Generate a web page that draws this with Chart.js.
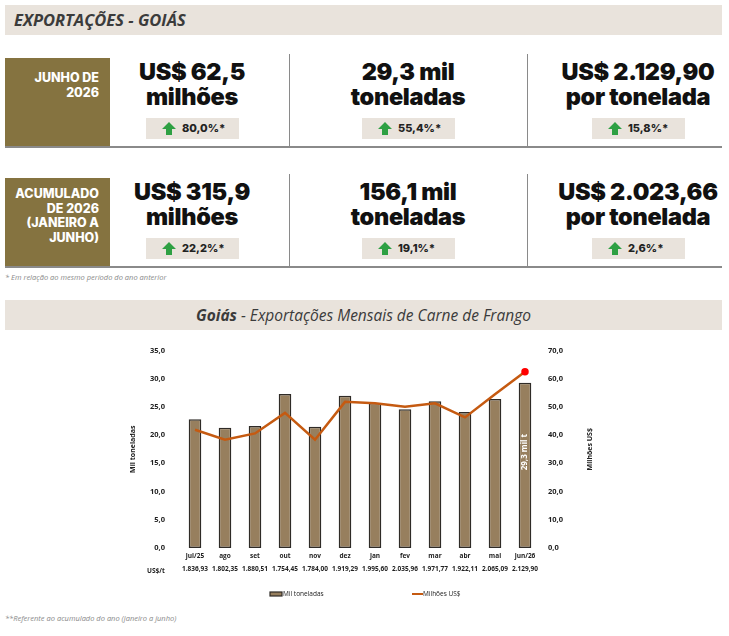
<!DOCTYPE html>
<html>
<head>
<meta charset="utf-8">
<script src="https://cdn.jsdelivr.net/npm/chart.js@4.4.1/dist/chart.umd.min.js"></script>
<style>
  body { margin: 0; background: #fff; width: 729px; height: 636px; position: relative; overflow: hidden; font-family: "Open Sans", sans-serif; }
  .bar-head { position: absolute; left: 5px; width: 717px; height: 30px; background: #e9e3dc; }
  #head1 { top: 5px; }
  #head1 span { position: absolute; left: 9px; top: 3px; font: italic 700 16.5px "Open Sans"; color: #3b3b3b; }
  #head2 { top: 300px; text-align: center; }
  #head2 span { display: inline-block; margin-top: 4px; font: italic 400 15.5px "Open Sans"; color: #3b3b3b; }
  #head2 b { font-weight: 700; }
  .kpi-label { position: absolute; left: 5px; width: 105px; height: 88px; background: #857340; }
  .kpi-label div { position: absolute; right: 11px; font: 800 12.5px Inter; color: #fff; text-align: right; line-height: 14.5px; }
  .divider { position: absolute; width: 1px; background: #8a8a8a; }
  .hline { position: absolute; left: 5px; width: 717px; height: 1.5px; background: #8a8a8a; }
  .kpi-val { position: absolute; width: 240px; text-align: center; font: 900 23.5px Inter; color: #111; line-height: 25px; letter-spacing: -0.3px; }
  .badge { position: absolute; width: 93px; height: 21px; background: #e9e3dc; font: 800 11px Inter; color: #222; }
  .badge svg { position: absolute; left: 16px; top: 4px; }
  .badge span { position: absolute; left: 36px; top: 3px; }
  .note { position: absolute; left: 5px; font: italic 400 7.5px "Open Sans"; color: #8a8a8a; }
  #chart-wrap { position: absolute; left: 100px; top: 331px; width: 520px; height: 274px; }
</style>
</head>
<body>
<div class="bar-head" id="head1"><span>EXPORTAÇÕES - GOIÁS</span></div>
<div id="kpis"></div>
<div class="note" style="top:272px">* Em relação ao mesmo período do ano anterior</div>
<div class="bar-head" id="head2"><span><b>Goiás</b> - Exportações Mensais de Carne de Frango</span></div>
<div id="chart-wrap"><canvas id="chart-exports"></canvas></div>
<div class="note" style="top:613px">**Referente ao acumulado do ano (janeiro a junho)</div>

<script>
// monthly data
const months = ['jul/25', 'ago', 'set', 'out', 'nov', 'dez', 'jan', 'fev', 'mar', 'abr', 'mai', 'jun/26'];
const tons = [22.8, 21.3, 21.6, 27.3, 21.5, 27.0, 25.7, 24.6, 26.0, 24.1, 26.4, 29.3];
const usdMillions = [41.9, 38.4, 40.6, 47.9, 38.4, 51.8, 51.3, 50.1, 51.3, 46.3, 54.5, 62.5];
const pricePerTon = ['1.836,93', '1.802,35', '1.880,51', '1.754,45', '1.784,00', '1.919,29', '1.995,60', '2.035,96', '1.971,77', '1.922,11', '2.065,09', '2.129,90'];

// KPI blocks
const kpiLabels = [['JUNHO DE', '2026'], ['ACUMULADO', 'DE 2026', '(JANEIRO A', 'JUNHO)']];
const kpiValues = [
  [['US$ 62,5', 'milhões'], ['29,3 mil', 'toneladas'], ['US$ 2.129,90', 'por tonelada']],
  [['US$ 315,9', 'milhões'], ['156,1 mil', 'toneladas'], ['US$ 2.023,66', 'por tonelada']]
];
const kpiChanges = [['80,0%*', '55,4%*', '15,8%*'], ['22,2%*', '19,1%*', '2,6%*']];

const blockTops = [58, 178];
const colCenters = [192, 408, 638];
const arrow = '<svg width="14" height="13" viewBox="0 0 14 13"><path d="M7 0 L14 7 L10 7 L10 13 L4 13 L4 7 L0 7 Z" fill="#2ea043"/></svg>';

let html = '';
blockTops.forEach((top, b) => {
  const labelTop = b === 0 ? 13 : 9;
  html += `<div class="kpi-label" style="top:${top}px"><div style="top:${labelTop}px">${kpiLabels[b].join('<br>')}</div></div>`;
  html += `<div class="divider" style="left:289px;top:${top - 4}px;height:92px"></div>`;
  html += `<div class="divider" style="left:527px;top:${top - 4}px;height:92px"></div>`;
  html += `<div class="hline" style="top:${top + 88}px"></div>`;
  kpiValues[b].forEach((v, i) => {
    html += `<div class="kpi-val" style="left:${colCenters[i] - 120}px;top:${top + 1}px">${v[0]}<br>${v[1]}</div>`;
    html += `<div class="badge" style="left:${colCenters[i] - 46}px;top:${top + 60}px">${arrow}<span>${kpiChanges[b][i]}</span></div>`;
  });
});
document.getElementById('kpis').innerHTML = html;

const fmt = v => v.toFixed(1).replace('.', ',');

// extra text: US$/t row caption, right axis title, legend and label inside the last bar
const extraText = {
  id: 'extraText',
  afterDraw(chart) {
    const ctx = chart.ctx;
    const x = chart.scales.x;
    const area = chart.chartArea;
    const barSet = chart.data.datasets[0];
    const lineSet = chart.data.datasets[1];
    ctx.save();
    ctx.font = '700 6.5px "Open Sans"';
    ctx.fillStyle = '#222';
    ctx.textAlign = 'left';
    ctx.textBaseline = 'middle';
    ctx.fillText('US$/t', 47, x.bottom - 6.5);

    // right axis title, reads bottom to top
    ctx.save();
    ctx.translate(area.right + 50, (area.top + area.bottom) / 2);
    ctx.rotate(-Math.PI / 2);
    ctx.textAlign = 'center';
    ctx.font = '700 7px "Open Sans"';
    ctx.fillText(lineSet.label, 0, 0);
    ctx.restore();

    // legend
    const cx = (area.left + area.right) / 2;
    const ly = x.bottom + 16;
    ctx.font = '400 6.5px "Open Sans"';
    ctx.fillStyle = barSet.backgroundColor;
    ctx.fillRect(cx - 90, ly - 2, 12, 4);
    ctx.strokeStyle = barSet.borderColor;
    ctx.lineWidth = 1.2;
    ctx.strokeRect(cx - 90, ly - 2, 12, 4);
    ctx.fillStyle = '#222';
    ctx.fillText(barSet.label, cx - 77, ly);
    ctx.strokeStyle = lineSet.borderColor;
    ctx.lineWidth = 2;
    ctx.beginPath();
    ctx.moveTo(cx + 52, ly);
    ctx.lineTo(cx + 63, ly);
    ctx.stroke();
    ctx.fillText(lineSet.label, cx + 63, ly);

    // value inside the last bar
    const meta = chart.getDatasetMeta(0);
    const bar = meta.data[meta.data.length - 1];
    const midY = bar.y + (bar.base - bar.y) * 0.42;
    ctx.translate(bar.x, midY);
    ctx.rotate(-Math.PI / 2);
    ctx.textAlign = 'center';
    ctx.fillStyle = '#fff';
    ctx.font = '700 8px "Open Sans"';
    ctx.fillText(fmt(tons[tons.length - 1]) + ' mil t', 0, 0);
    ctx.restore();
  }
};

const ctxChart = document.getElementById('chart-exports').getContext('2d');
new Chart(ctxChart, {
  type: 'bar',
  data: {
    labels: months.map((m, i) => [m, pricePerTon[i]]),
    datasets: [
      {
        label: 'Mil toneladas',
        data: tons,
        backgroundColor: '#977f5e',
        borderColor: '#2f2b27',
        borderWidth: 1.5,
        borderSkipped: false,
        barPercentage: 0.42,
        categoryPercentage: 1,
        yAxisID: 'y',
        order: 2
      },
      {
        label: 'Milhões US$',
        type: 'line',
        data: usdMillions,
        borderColor: '#c55a11',
        backgroundColor: '#c55a11',
        borderWidth: 2.5,
        tension: 0,
        pointRadius: c => c.dataIndex === usdMillions.length - 1 ? 2.5 : 0,
        pointBackgroundColor: '#ff0000',
        pointBorderColor: '#ff0000',
        yAxisID: 'y1',
        order: 1
      }
    ]
  },
  options: {
    responsive: true,
    maintainAspectRatio: false,
    animation: false,
    layout: { padding: { left: 0, right: 0, top: 6, bottom: 27 } },
    plugins: {
      tooltip: { enabled: false },
      legend: { display: false }
    },
    scales: {
      x: {
        grid: { display: false, drawTicks: false },
        border: { display: false },
        ticks: {
          color: '#222',
          font: { family: 'Open Sans', size: 6.5, weight: '700', lineHeight: 2 },
          maxRotation: 0,
          autoSkip: false,
          padding: 2
        }
      },
      y: {
        position: 'left',
        min: 0, max: 35,
        grid: { display: false, drawTicks: false },
        border: { display: false },
        afterFit: s => { s.width = 80; },
        title: { display: true, text: 'Mil toneladas', color: '#222', font: { family: 'Open Sans', size: 7, weight: '700' }, padding: { top: 29, bottom: 0 } },
        ticks: { stepSize: 5, color: '#222', padding: 15, font: { family: 'Open Sans', size: 7.5, weight: '700' }, callback: v => fmt(v) }
      },
      y1: {
        position: 'right',
        min: 0, max: 70,
        grid: { display: false, drawTicks: false },
        border: { display: false },
        afterFit: s => { s.width = 80; },
        ticks: { stepSize: 10, color: '#222', padding: 8, font: { family: 'Open Sans', size: 7.5, weight: '700' }, callback: v => fmt(v) }
      }
    }
  },
  plugins: [extraText]
});
</script>
</body>
</html>
